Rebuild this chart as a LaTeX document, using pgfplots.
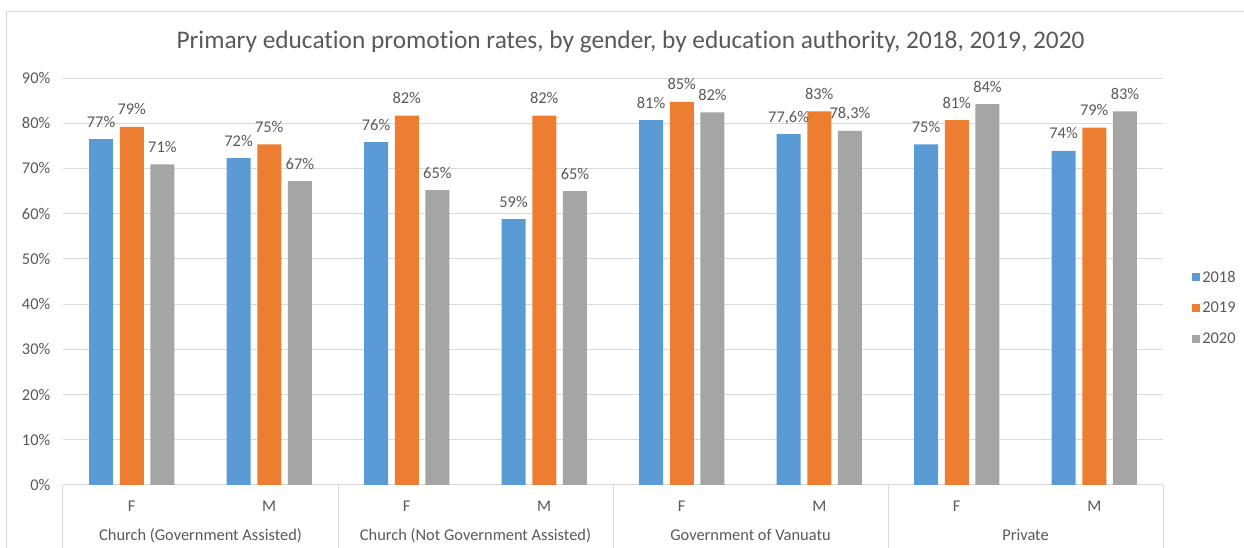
\documentclass[border=0pt]{standalone}
\usepackage{pgfplots}
\usepackage{pgfplotstable}
\pgfplotsset{compat=1.18}
\usepackage{fontspec}
\setmainfont[Ligatures=NoCommon]{Carlito}
\definecolor{cblue}{HTML}{5B9BD5}
\definecolor{corange}{HTML}{ED7D31}
\definecolor{cgray}{HTML}{A5A5A5}
\definecolor{txt}{HTML}{595959}
\definecolor{gridc}{HTML}{D9D9D9}
\pgfplotstableread{
x y18 l18 y19 l19 y20 l20
0 76.5 77 79.2 79 70.9 71
1 72.3 72 75.3 75 67.2 67
2 75.8 76 81.7 82 65.2 65
3 58.8 59 81.7 82 65.0 65
4 80.7 81 84.7 85 82.4 82
5 77.6 77,6 82.6 83 78.3 78,3
6 75.3 75 80.7 81 84.2 84
7 73.9 74 79.0 79 82.6 83
}\datatable
\begin{document}
\begin{tikzpicture}
\useasboundingbox (-47.25pt,-47.25pt) rectangle (885.75pt,363.75pt);
\draw[gridc, line width=0.75pt] (-42pt,-60pt) -- (-42pt,354.75pt) -- (900pt,354.75pt);
\begin{axis}[
  at={(0pt,0pt)}, anchor=south west,
  scale only axis, width=825pt, height=305.25pt,
  xmin=-0.5, xmax=7.5, ymin=0, ymax=90,
  ybar=5pt, bar width=18pt,
  xtick={0,...,7}, xticklabels={F,M,F,M,F,M,F,M},
  ytick={0,10,...,90},
  yticklabels={0\%,10\%,20\%,30\%,40\%,50\%,60\%,70\%,80\%,90\%},
  ymajorgrids, grid style={gridc, line width=0.75pt},
  major tick length=0pt,
  axis line style={draw=none},
  tick label style={font=\fontsize{12.3}{14}\selectfont, text=txt},
  yticklabel style={anchor=east, xshift=-6pt},
  xticklabel style={anchor=base, yshift=-20.25pt},
  clip=false,
  point meta=explicit symbolic,
  nodes near coords={\pgfplotspointmeta\%},
  every node near coord/.append style={font=\fontsize{12.3}{14}\selectfont, text=txt, anchor=base, yshift=9pt, inner sep=0pt},
  legend style={at={(axis description cs:1.0264,0.435)}, anchor=west, draw=none, fill=none,
    font=\fontsize{12.3}{14}\selectfont, text=txt, row sep=10.4pt, inner sep=0pt,
    nodes={inner sep=1.5pt}},
  legend cell align=left,
  legend image code/.code={\fill[#1] (0pt,-3pt) rectangle (6pt,3pt);},
]
\addplot[fill=cblue, draw=none] table[x=x, y=y18, meta=l18] {\datatable};
\addplot[fill=corange, draw=none] table[x=x, y=y19, meta=l19] {\datatable};
\addplot[fill=cgray, draw=none] table[x=x, y=y20, meta=l20] {\datatable};
\legend{2018,2019,2020}
\foreach \s in {-0.5,1.5,3.5,5.5,7.5} {
  \edef\tmp{\noexpand\draw[gridc, line width=0.75pt] (axis cs:\s,0) -- ++(0pt,-60pt);}
  \tmp
}
\node[font=\fontsize{12.3}{14}\selectfont, text=txt, anchor=base] at ([yshift=-42pt]axis cs:0.5,0) {Church (Government Assisted)};
\node[font=\fontsize{12.3}{14}\selectfont, text=txt, anchor=base] at ([yshift=-42pt]axis cs:2.5,0) {Church (Not Government Assisted)};
\node[font=\fontsize{12.3}{14}\selectfont, text=txt, anchor=base] at ([yshift=-42pt]axis cs:4.5,0) {Government of Vanuatu};
\node[font=\fontsize{12.3}{14}\selectfont, text=txt, anchor=base] at ([yshift=-42pt]axis cs:6.5,0) {Private};
\end{axis}
\node[font=\fontsize{19}{23}\selectfont, text=txt, anchor=base] at (425.6pt,327pt) {Primary education promotion rates, by gender, by education authority, 2018, 2019, 2020};
\end{tikzpicture}
\end{document}
